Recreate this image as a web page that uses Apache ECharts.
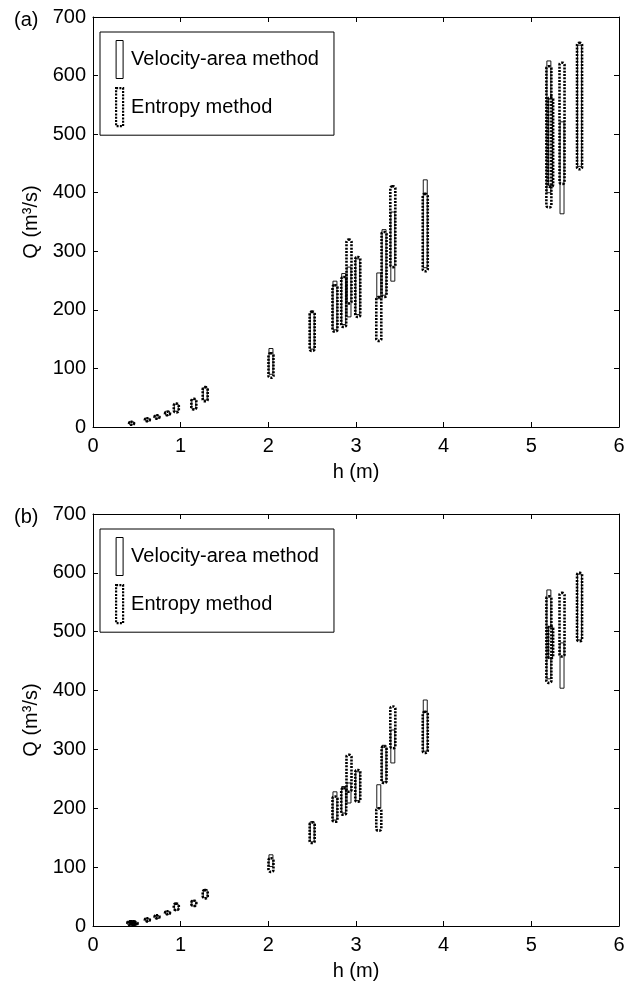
<!DOCTYPE html>
<html><head><meta charset="utf-8">
<script src="https://cdn.jsdelivr.net/npm/echarts@6/dist/echarts.min.js"></script>
<style>html,body{margin:0;padding:0;background:#fff}#c{width:628px;height:986px}</style>
</head><body><div id="c"></div>
<script>
// Panel (a)
var hA      = [0.44,0.62,0.73,0.85,0.95,1.15,1.28,2.03,2.50,2.76,2.86,2.92,3.02,3.26,3.32,3.42,3.79,5.20,5.22,5.35,5.55];
var vaLowA  = [5,11,15,20,27,31,46,90,133,166,175,188,192,219,225,249,272,400,412,364,445];
var vaHighA = [9,15,20,27,39,47,67,134,195,249,262,273,287,263,337,367,422,625,560,521,652];
var enLowA  = [4,10,14,20,25,30,44,84,130,163,171,211,188,147,222,273,266,375,410,415,440];
var enHighA = [9,15,20,26,40,48,68,126,197,242,256,320,290,222,333,411,398,616,563,622,656];
// Panel (b)
var hB      = [0.42,0.44,0.46,0.48,0.62,0.73,0.85,0.95,1.15,1.28,2.03,2.50,2.76,2.86,2.92,3.02,3.26,3.32,3.42,3.79,5.20,5.22,5.35,5.55];
var vaLowB  = [2,3,1,2,10,14,20,27,34,48,101,143,180,192,209,213,200,245,277,297,420,455,404,486];
var vaHighB = [8,8,8,7,13,18,25,37,43,62,121,177,228,237,243,262,240,307,333,384,571,509,481,598];
var enLowB  = [2,3,1,2,10,14,20,27,34,47,92,141,177,189,228,211,162,243,302,294,413,455,458,484];
var enHighB = [8,8,8,7,13,18,25,38,43,61,115,176,220,234,291,265,200,305,373,364,560,509,566,600];
var xTicks = [0,1,2,3,4,5,6];
var yTicks = [0,100,200,300,400,500,600,700];
var legendNames = ['Velocity-area method','Entropy method'];

function rows(h, lo, hi){ return h.map(function(v,i){ return [v, lo[i], hi[i]]; }); }
function makeRender(w, dotted){
  return function(params, api){
    var x = api.value(0), lo = api.value(1), hi = api.value(2);
    var p1 = api.coord([x, hi]), p2 = api.coord([x, lo]);
    var hgt = Math.max(p2[1]-p1[1], 3);
    return {
      type:'rect',
      shape:{x:p1[0]-w/2, y:p1[1], width:w, height:hgt, r: dotted ? 2 : 0},
      style: dotted ? {fill:'rgba(0,0,0,0)', stroke:'#000', lineWidth:2.6, lineDash:[2,1.3]}
                    : {fill:'#fff', stroke:'#000', lineWidth:0.9}
    };
  };
}
var FONT = 'Liberation Sans';
var FS = 20;
var grids = [{left:93, top:17, width:526, height:410},{left:93, top:514, width:526, height:412}];
var xAxes = [], yAxes = [], series = [], legends = [];
grids.forEach(function(g, i){
  xAxes.push({gridIndex:i, type:'value', min:0, max:6, interval:1, name:'h (m)', nameLocation:'middle', nameGap:35,
    nameTextStyle:{fontFamily:FONT, fontSize:FS, color:'#000'},
    axisLine:{onZero:false, lineStyle:{color:'#000', width:1}}, axisTick:{inside:true, length:5, lineStyle:{color:'#000'}},
    axisLabel:{fontFamily:FONT, fontSize:FS, color:'#000', margin:9, formatter:function(v){return xTicks.indexOf(v)>=0?String(v):'';}},
    splitLine:{show:false}});
  xAxes.push({gridIndex:i, type:'value', position:'top', min:0, max:6, interval:1,
    axisLine:{onZero:false, lineStyle:{color:'#000', width:1}}, axisTick:{inside:true, length:5, lineStyle:{color:'#000'}},
    axisLabel:{show:false}, splitLine:{show:false}});
  yAxes.push({gridIndex:i, type:'value', min:0, max:700, interval:100, name:'Q (m³/s)', nameLocation:'middle', nameGap:50,
    nameTextStyle:{fontFamily:FONT, fontSize:FS, color:'#000'},
    axisLine:{show:true, onZero:false, lineStyle:{color:'#000', width:1}}, axisTick:{show:true, inside:true, length:5, lineStyle:{color:'#000'}},
    axisLabel:{fontFamily:FONT, fontSize:FS, color:'#000', margin:7, formatter:function(v){return yTicks.indexOf(v)>=0?String(v):'';}},
    splitLine:{show:false}});
  yAxes.push({gridIndex:i, type:'value', position:'right', min:0, max:700, interval:100,
    axisLine:{show:true, onZero:false, lineStyle:{color:'#000', width:1}}, axisTick:{show:true, inside:true, length:5, lineStyle:{color:'#000'}},
    axisLabel:{show:false}, splitLine:{show:false}});
  var d = i===0 ? [rows(hA,vaLowA,vaHighA), rows(hA,enLowA,enHighA)] : [rows(hB,vaLowB,vaHighB), rows(hB,enLowB,enHighB)];
  series.push({type:'custom', name:legendNames[0], xAxisIndex:2*i, yAxisIndex:2*i, renderItem:makeRender(4,false), data:d[0],
    itemStyle:{color:'#fff', borderColor:'#000', borderWidth:1}, encode:{x:0, y:[1,2]}, silent:true});
  series.push({type:'custom', name:legendNames[1], xAxisIndex:2*i, yAxisIndex:2*i, renderItem:makeRender(5,true), data:d[1],
    itemStyle:{color:'#fff', borderColor:'#000', borderWidth:2, borderType:[2,1.3]}, encode:{x:0, y:[1,2]}, silent:true});
  legends.push({orient:'vertical', left:100, top: g.top + 15, itemWidth:7, itemHeight:38, itemGap:8,
    backgroundColor:'#fff', borderColor:'#000', borderWidth:1, padding:[8,15,8,15],
    textStyle:{fontFamily:FONT, fontSize:FS, color:'#000', padding:[0,0,0,3]},
    data:[{name:legendNames[0], icon:'rect', itemStyle:{color:'#fff', borderColor:'#000', borderWidth:1}},
          {name:legendNames[1], icon:'rect', itemStyle:{color:'#fff', borderColor:'#000', borderWidth:2.2, borderType:[2,1.3]}}],
    selectedMode:false});
});
var chart = echarts.init(document.getElementById('c'), null, {renderer:'canvas'});
chart.setOption({
  animation:false,
  backgroundColor:'#fff',
  title:[{text:'(a)', left:9, top:5, textStyle:{fontFamily:FONT, fontSize:FS, fontWeight:'normal', color:'#000'}},
         {text:'(b)', left:9, top:502, textStyle:{fontFamily:FONT, fontSize:FS, fontWeight:'normal', color:'#000'}}],
  grid:grids, xAxis:xAxes, yAxis:yAxes, legend:legends, series:series
});
</script></body></html>
